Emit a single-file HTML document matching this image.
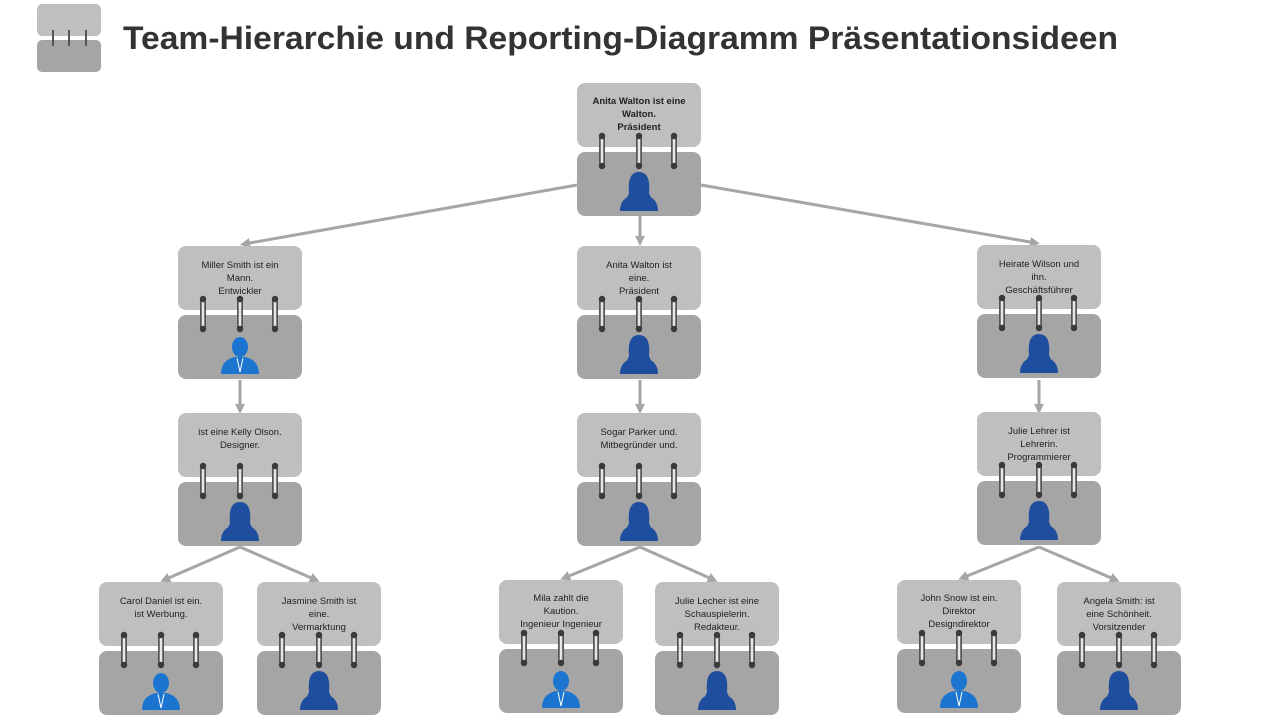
<!DOCTYPE html>
<html><head><meta charset="utf-8"><style>html,body{margin:0;padding:0;background:#fff}svg{display:block}text{font-family:"Liberation Sans",sans-serif}</style></head>
<body>
<svg width="1280" height="720" viewBox="0 0 1280 720" xmlns="http://www.w3.org/2000/svg">
<defs>
<g id="rings">
 <g stroke-linecap="round">
  <line x1="-37" y1="53" x2="-37" y2="83" stroke="#555" stroke-width="6"/>
  <line x1="-37" y1="53" x2="-37" y2="83" stroke="#e8e8e8" stroke-width="2.5"/>
  <line x1="0" y1="53" x2="0" y2="83" stroke="#555" stroke-width="6"/>
  <line x1="0" y1="53" x2="0" y2="83" stroke="#e8e8e8" stroke-width="2.5"/>
  <line x1="35" y1="53" x2="35" y2="83" stroke="#555" stroke-width="6"/>
  <line x1="35" y1="53" x2="35" y2="83" stroke="#e8e8e8" stroke-width="2.5"/>
 </g>
 <circle cx="-37" cy="53" r="3.2" fill="#3a3a3a"/><circle cx="0" cy="53" r="3.2" fill="#3a3a3a"/><circle cx="35" cy="53" r="3.2" fill="#3a3a3a"/>
 <circle cx="-37" cy="83" r="3.2" fill="#3a3a3a"/><circle cx="0" cy="83" r="3.2" fill="#3a3a3a"/><circle cx="35" cy="83" r="3.2" fill="#3a3a3a"/>
</g>
<g id="base">
 <rect x="-62" y="0" width="124" height="64" rx="8" fill="#bfbfbf"/>
 <rect x="-62" y="69" width="124" height="64" rx="8" fill="#a5a5a5"/>
 <use href="#rings"/>
</g>
<g id="fem">
 <path d="M-10 110 Q-12 89 0 89 Q12 89 10 110 L13 117 L-13 117 Z" fill="#1f4e9e"/>
 <path d="M-19 128 Q-19 115 -6 112 L6 112 Q19 115 19 128 Z" fill="#1f4e9e"/>
</g>
<g id="male">
 <ellipse cx="0" cy="101" rx="8" ry="10" fill="#1b75d0"/>
 <path d="M-19 128 Q-19 114 -5 111 L5 111 Q19 114 19 128 Z" fill="#1b75d0"/>
 <path d="M-3 112 L0 126 L3 112" stroke="#fff" stroke-width="1" fill="none"/>
</g>
<marker id="ar" markerWidth="10" markerHeight="10" refX="6" refY="5" orient="auto" markerUnits="userSpaceOnUse"><path d="M0 0 L10 5 L0 10 Z" fill="#a6a6a6"/></marker>
</defs>

<!-- logo -->
<rect x="37" y="4" width="64" height="32" rx="5" fill="#bfbfbf"/>
<rect x="37" y="40" width="64" height="32" rx="5" fill="#a5a5a5"/>
<g stroke="#555" stroke-width="2"><line x1="53" y1="30" x2="53" y2="46"/><line x1="69" y1="30" x2="69" y2="46"/><line x1="86" y1="30" x2="86" y2="46"/></g>
<text x="123" y="49" font-size="32" font-weight="bold" fill="#333" textLength="995" lengthAdjust="spacingAndGlyphs">Team-Hierarchie und Reporting-Diagramm Präsentationsideen</text>

<!-- connectors -->
<g stroke="#a6a6a6" stroke-width="3" fill="none" marker-end="url(#ar)">
<line x1="577" y1="185" x2="244" y2="244"/>
<line x1="701" y1="185" x2="1036" y2="243"/>
<line x1="640" y1="216" x2="640" y2="242"/>
<line x1="240" y1="380" x2="240" y2="410"/>
<line x1="640" y1="380" x2="640" y2="410"/>
<line x1="1039" y1="380" x2="1039" y2="410"/>
<line x1="240" y1="547" x2="164" y2="580"/>
<line x1="240" y1="547" x2="316" y2="580"/>
<line x1="640" y1="547" x2="564" y2="578"/>
<line x1="640" y1="547" x2="714" y2="580"/>
<line x1="1039" y1="547" x2="962" y2="578"/>
<line x1="1039" y1="547" x2="1116" y2="580"/>
</g>

<g font-size="9.5" fill="#222" text-anchor="middle">
<g transform="translate(639,83)"><use href="#base"/><use href="#fem"/>
<text y="21" font-weight="bold">Anita Walton ist eine</text><text y="34" font-weight="bold">Walton.</text><text y="47" font-weight="bold">Präsident</text></g>
<g transform="translate(240,246)"><use href="#base"/><use href="#male"/>
<text y="22">Miller Smith ist ein</text><text y="35">Mann.</text><text y="48">Entwickler</text></g>
<g transform="translate(639,246)"><use href="#base"/><use href="#fem"/>
<text y="22">Anita Walton ist</text><text y="35">eine.</text><text y="48">Präsident</text></g>
<g transform="translate(1039,245)"><use href="#base"/><use href="#fem"/>
<text y="22">Heirate Wilson und</text><text y="35">ihn.</text><text y="48">Geschäftsführer</text></g>
<g transform="translate(240,413)"><use href="#base"/><use href="#fem"/>
<text y="22">ist eine Kelly Olson.</text><text y="35">Designer.</text></g>
<g transform="translate(639,413)"><use href="#base"/><use href="#fem"/>
<text y="22">Sogar Parker und.</text><text y="35">Mitbegründer und.</text></g>
<g transform="translate(1039,412)"><use href="#base"/><use href="#fem"/>
<text y="22">Julie Lehrer ist</text><text y="35">Lehrerin.</text><text y="48">Programmierer</text></g>
<g transform="translate(161,582)"><use href="#base"/><use href="#male"/>
<text y="22">Carol Daniel ist ein.</text><text y="35">ist Werbung.</text></g>
<g transform="translate(319,582)"><use href="#base"/><use href="#fem"/>
<text y="22">Jasmine Smith ist</text><text y="35">eine.</text><text y="48">Vermarktung</text></g>
<g transform="translate(561,580)"><use href="#base"/><use href="#male"/>
<text y="21">Mila zahlt die</text><text y="34">Kaution.</text><text y="47">Ingenieur Ingenieur</text></g>
<g transform="translate(717,582)"><use href="#base"/><use href="#fem"/>
<text y="22">Julie Lecher ist eine</text><text y="35">Schauspielerin.</text><text y="48">Redakteur.</text></g>
<g transform="translate(959,580)"><use href="#base"/><use href="#male"/>
<text y="21">John Snow ist ein.</text><text y="34">Direktor</text><text y="47">Designdirektor</text></g>
<g transform="translate(1119,582)"><use href="#base"/><use href="#fem"/>
<text y="22">Angela Smith: ist</text><text y="35">eine Schönheit.</text><text y="48">Vorsitzender</text></g>
</g>
</svg>
</body></html>
